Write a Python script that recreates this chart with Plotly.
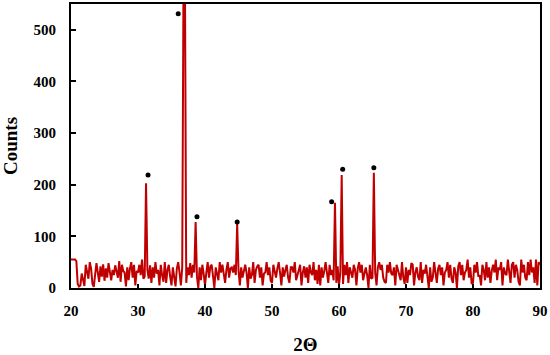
import numpy as np
import plotly.graph_objects as go

# 2-theta grid (0.2 degree step from 20 to 90)
two_theta = np.round(np.arange(20.0, 90.0001, 0.2), 1)

# counts, 5 values per degree
counts = [
    55, 55, 55, 55, 52,
    8, 3, 5, 28, 12,
    4, 45, 30, 18, 50,
    38, 8, 2, 26, 48,
    30, 12, 42, 22, 46,
    14, 38, 20, 48, 28,
    15, 35, 25, 44, 30,
    20, 52, 12, 45, 33,
    30, 3, 40, 15, 38,
    50, 20, 45, 5, 33,
    30, 45, 25, 55, 18,
    22, 203, 35, 18, 44,
    10, 40, 20, 50, 28,
    35, 5, 45, 25, 12,
    50, 10, 35, 45, 22,
    5, 40, 25, 3, 38,
    50, 30, 5, 40, 620,
    620, 10, 40, 25, 48,
    20, 45, 30, 128, 22,
    0, 40, 15, 45, 28,
    5, 30, 50, 20, 42,
    45, 25, 0, 40, 30,
    15, 50, 30, 45, 22,
    10, 35, 50, 20, 38,
    40, 30, 45, 25, 124,
    35, 5, 40, 20, 30,
    45, 30, 0, 40, 18,
    25, 50, 10, 35, 42,
    45, 20, 40, 5, 28,
    30, 50, 25, 40, 14,
    10, 45, 35, 20, 38,
    50, 30, 5, 40, 22,
    35, 45, 20, 10, 40,
    40, 30, 50, 15, 28,
    35, 45, 5, 30, 42,
    20, 40, 10, 45, 30,
    25, 50, 15, 35, 8,
    45, 5, 40, 20, 33,
    50, 30, 10, 45, 25,
    35, 15, 165, 10, 42,
    5, 30, 219, 8, 45,
    25, 50, 10, 40, 30,
    20, 45, 35, 5, 38,
    50, 30, 45, 15, 28,
    40, 25, 0, 45, 18,
    20, 223, 30, 5, 40,
    50, 35, 45, 20, 12,
    10, 45, 30, 50, 28,
    25, 40, 5, 45, 35,
    30, 15, 50, 20, 8,
    40, 10, 35, 25, 48,
    45, 5, 30, 40, 22,
    15, 50, 10, 35, 28,
    45, 25, 0, 40, 12,
    20, 50, 30, 10, 38,
    45, 25, 40, 5, 30,
    35, 50, 20, 45, 18,
    10, 40, 30, 0, 42,
    50, 25, 45, 15, 30,
    35, 55, 20, 40, 8,
    10, 45, 30, 50, 22,
    25, 5, 45, 35, 15,
    50, 20, 40, 10, 33,
    45, 30, 55, 15, 40,
    35, 50, 5, 40, 28,
    25, 55, 30, 10, 45,
    50, 20, 45, 35, 12,
    5, 55, 30, 45, 20,
    15, 50, 25, 55, 30,
    40, 10, 55, 5, 50,
    45,
]

# peak marker dots
dot_x = [31.5, 36.0, 38.8, 44.8, 58.9, 60.55, 65.2]
dot_y = [219, 531, 138, 128, 167, 230, 233]

x_ticks = [20, 30, 40, 50, 60, 70, 80, 90]
y_ticks = [0, 100, 200, 300, 400, 500]

fig = go.Figure()
fig.add_trace(go.Scatter(
    x=two_theta, y=counts, mode="lines",
    line=dict(color="#c00000", width=2),
    showlegend=False, hoverinfo="skip",
))
fig.add_trace(go.Scatter(
    x=dot_x, y=dot_y, mode="markers",
    marker=dict(color="black", size=5),
    showlegend=False, hoverinfo="skip",
))

font_family = "Liberation Serif, Times New Roman, serif"
fig.update_layout(
    width=550, height=355,
    margin=dict(l=71, r=10, t=4, b=67),
    paper_bgcolor="white", plot_bgcolor="white",
    font=dict(family=font_family, size=15, color="black"),
)
fig.update_xaxes(
    range=[20, 90], tickvals=x_ticks,
    ticktext=[f"<b>{v}</b>" for v in x_ticks],
    showline=True, linecolor="black", linewidth=2, mirror=True,
    ticks="inside", ticklen=4, tickcolor="black", tickwidth=1.5,
    ticklabelstandoff=8, automargin=False,
    showgrid=False, zeroline=False,
    title=dict(text="<b>2Θ</b>", font=dict(size=19, family=font_family), standoff=26),
)
fig.update_yaxes(
    range=[0, 550], tickvals=y_ticks,
    ticktext=[f"<b>{v}</b>" for v in y_ticks],
    showline=True, linecolor="black", linewidth=2, mirror=True,
    ticks="inside", ticklen=5, tickcolor="black", tickwidth=1.5,
    ticklabelstandoff=10, automargin=False,
    showgrid=False, zeroline=False,
    title=dict(text="<b>Counts</b>", font=dict(size=19, family=font_family), standoff=20),
)

fig.write_html("out.html", config={"displayModeBar": False},
               post_script="document.body.style.margin='0px';")
